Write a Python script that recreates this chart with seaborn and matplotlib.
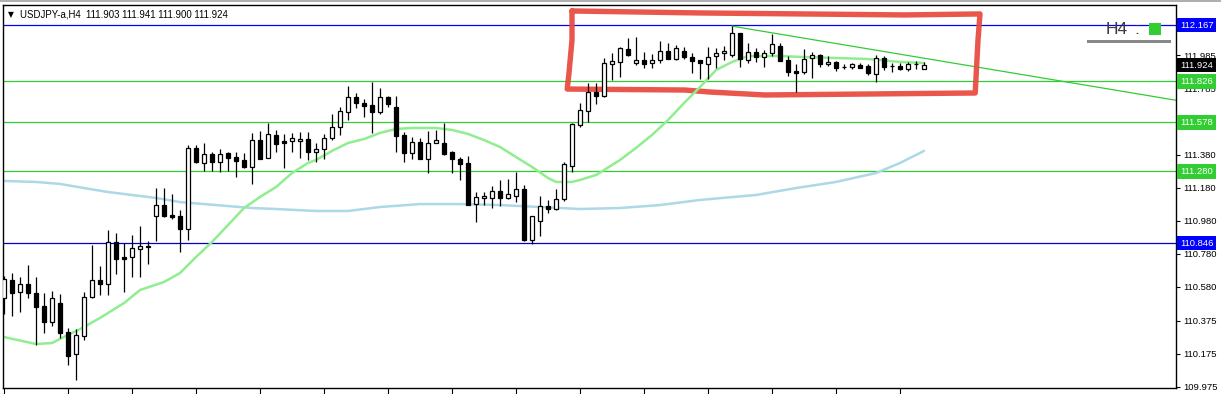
import matplotlib
matplotlib.use("Agg")
import matplotlib.pyplot as plt
import matplotlib.transforms as mtransforms
from matplotlib.patches import Rectangle
from matplotlib.lines import Line2D
import numpy as np
import pandas as pd
import seaborn as sns

# ---------------- data ----------------
symbol_title = "USDJPY-a,H4  111.903 111.941 111.900 111.924"

open_ = [110.513, 110.622, 110.549, 110.598, 110.543, 110.464, 110.367, 110.482, 110.307, 110.173,
         110.282, 110.519, 110.622, 110.598, 110.852, 110.761, 110.761, 110.810, 110.828, 111.010,
         111.076, 111.016, 111.010, 110.931, 111.422, 111.331, 111.386, 111.337, 111.392, 111.367,
         111.349, 111.307, 111.470, 111.361, 111.501, 111.464, 111.464, 111.464, 111.476, 111.398,
         111.416, 111.482, 111.549, 111.640, 111.731, 111.694, 111.682, 111.640, 111.731, 111.670,
         111.501, 111.392, 111.458, 111.355, 111.452, 111.452, 111.398, 111.355, 111.331, 111.082,
         111.119, 111.119, 111.161, 111.119, 111.131, 111.173, 110.864, 110.979, 111.070, 111.052,
         111.113, 111.313, 111.561, 111.646, 111.761, 111.737, 111.931, 111.943, 112.022, 111.937,
         111.955, 111.937, 111.955, 112.009, 111.961, 112.009, 111.973, 111.955, 111.931, 111.979,
         111.997, 111.985, 112.119, 111.955, 112.003, 111.973, 111.997, 112.040, 111.955, 111.888,
         111.882, 111.967, 111.985, 111.931, 111.943, 111.912, 111.912, 111.925, 111.919, 111.870,
         111.967, 111.919, 111.919, 111.900, 111.931, 111.903]
high = [110.646, 110.664, 110.640, 110.713, 110.640, 110.543, 110.555, 110.537, 110.331, 110.325,
        110.549, 110.834, 110.707, 110.925, 110.907, 110.846, 110.895, 110.949, 110.858, 111.179,
        111.179, 111.143, 111.046, 111.440, 111.440, 111.452, 111.398, 111.416, 111.398, 111.398,
        111.392, 111.513, 111.525, 111.573, 111.531, 111.507, 111.513, 111.519, 111.519, 111.452,
        111.507, 111.628, 111.670, 111.797, 111.755, 111.719, 111.822, 111.785, 111.737, 111.737,
        111.519, 111.488, 111.482, 111.525, 111.531, 111.573, 111.404, 111.367, 111.373, 111.155,
        111.155, 111.191, 111.228, 111.234, 111.276, 111.197, 111.010, 111.131, 111.107, 111.173,
        111.337, 111.573, 111.694, 111.816, 111.816, 111.967, 111.997, 112.034, 112.088, 112.094,
        112.003, 111.991, 112.070, 112.058, 112.046, 112.034, 111.997, 111.955, 112.034, 112.028,
        112.040, 112.160, 112.119, 112.058, 112.028, 112.016, 112.112, 112.058, 111.979, 111.931,
        112.022, 112.003, 111.991, 111.979, 111.949, 111.931, 111.937, 111.937, 111.931, 111.985,
        111.979, 111.937, 111.937, 111.943, 111.949, 111.941]
low = [110.416, 110.404, 110.428, 110.513, 110.228, 110.301, 110.343, 110.270, 110.107, 110.016,
       110.258, 110.513, 110.531, 110.531, 110.658, 110.549, 110.640, 110.640, 110.719, 110.858,
       111.004, 110.992, 110.791, 110.864, 111.331, 111.282, 111.282, 111.276, 111.282, 111.246,
       111.301, 111.204, 111.355, 111.361, 111.398, 111.301, 111.398, 111.361, 111.349, 111.337,
       111.355, 111.470, 111.501, 111.591, 111.664, 111.609, 111.513, 111.628, 111.670, 111.398,
       111.337, 111.355, 111.355, 111.270, 111.452, 111.379, 111.270, 111.228, 111.076, 110.973,
       111.076, 111.058, 111.070, 111.113, 111.094, 110.858, 110.840, 110.888, 111.028, 111.046,
       111.101, 111.276, 111.549, 111.579, 111.688, 111.731, 111.834, 111.852, 111.979, 111.925,
       111.906, 111.906, 111.937, 111.961, 111.955, 111.961, 111.876, 111.840, 111.840, 111.906,
       111.955, 111.973, 111.912, 111.937, 111.943, 111.912, 111.979, 111.949, 111.858, 111.761,
       111.870, 111.846, 111.912, 111.919, 111.888, 111.900, 111.900, 111.906, 111.864, 111.822,
       111.894, 111.882, 111.894, 111.888, 111.900, 111.900]
close = [110.628, 110.543, 110.598, 110.543, 110.458, 110.367, 110.513, 110.301, 110.161, 110.289,
         110.519, 110.622, 110.598, 110.852, 110.749, 110.749, 110.816, 110.828, 110.822, 111.076,
         111.010, 111.004, 110.931, 111.422, 111.337, 111.386, 111.337, 111.386, 111.361, 111.343,
         111.307, 111.470, 111.355, 111.507, 111.446, 111.452, 111.482, 111.476, 111.398, 111.416,
         111.482, 111.549, 111.646, 111.731, 111.694, 111.676, 111.640, 111.731, 111.688, 111.494,
         111.392, 111.458, 111.355, 111.452, 111.470, 111.386, 111.355, 111.325, 111.076, 111.125,
         111.131, 111.161, 111.119, 111.143, 111.173, 110.864, 111.010, 111.070, 111.052, 111.113,
         111.325, 111.567, 111.652, 111.761, 111.737, 111.937, 111.949, 112.028, 111.985, 111.955,
         111.931, 111.955, 112.009, 111.961, 112.028, 111.973, 111.949, 111.937, 111.973, 111.997,
         112.009, 112.119, 111.961, 112.003, 111.973, 111.997, 112.052, 111.949, 111.882, 111.876,
         111.961, 111.985, 111.931, 111.943, 111.906, 111.912, 111.931, 111.906, 111.876, 111.967,
         111.912, 111.916, 111.900, 111.931, 111.931, 111.924]

# fast moving average (light green), sampled along the bars
ma_fast_bar = [0, 4, 6, 8, 10, 12, 15, 17, 20, 22, 24, 26, 28, 30, 32, 34, 36, 38, 39, 41, 43, 45,
               47, 49, 51, 54, 56, 58, 60, 62, 64, 66, 68, 69, 71, 72, 74, 75, 77, 79, 81, 83, 85,
               87, 89, 91, 93, 97, 100, 104, 108, 112, 115]
ma_fast_val = [110.276, 110.234, 110.240, 110.289, 110.337, 110.392, 110.482, 110.561, 110.610,
               110.664, 110.761, 110.852, 110.955, 111.058, 111.125, 111.185, 111.270, 111.331,
               111.349, 111.404, 111.452, 111.476, 111.513, 111.537, 111.543, 111.543, 111.531,
               111.507, 111.470, 111.428, 111.367, 111.307, 111.240, 111.216, 111.216, 111.228,
               111.258, 111.288, 111.349, 111.422, 111.501, 111.591, 111.694, 111.791, 111.894,
               111.943, 111.979, 111.979, 111.973, 111.967, 111.961, 111.943, 111.937]
# slow moving average (light blue)
ma_slow_bar = [0, 4, 7, 10, 13, 16, 19, 22, 25, 28, 31, 34, 39, 43, 47, 52, 57, 62, 67, 72, 77,
               82, 87, 94, 99, 104, 109, 112, 115]
ma_slow_val = [111.222, 111.216, 111.204, 111.179, 111.155, 111.137, 111.119, 111.094, 111.082,
               111.070, 111.058, 111.052, 111.040, 111.040, 111.064, 111.082, 111.082, 111.076,
               111.064, 111.052, 111.058, 111.076, 111.107, 111.137, 111.179, 111.216, 111.270,
               111.331, 111.404]

# horizontal levels
level_values = [112.167, 111.826, 111.578, 111.280, 110.846]
level_labels = ["112.167", "111.826", "111.578", "111.280", "110.846"]
level_colors = ["#0000ff", "#32cd32", "#32cd32", "#32cd32", "#0000c8"]
level_box_colors = ["#0000ff", "#32cd32", "#32cd32", "#32cd32", "#0000ff"]

# descending trend line (bar index, price)
trend_bar = [91, 146.5]
trend_price = [112.160, 111.711]

# hand drawn red frame (bar index, price)
frame_bar = [71.0, 87.0, 112.6, 122.0, 121.75, 121.4, 108.25, 95.1, 88.25, 85.1, 70.4, 70.6, 71.0, 71.0]
frame_price = [112.252, 112.240, 112.228, 112.234, 112.076, 111.755, 111.749, 111.743, 111.761,
               111.773, 111.779, 111.864, 112.076, 112.252]

# right price scale
scale_ticks = [111.985, 111.785, 111.380, 111.180, 110.980, 110.780, 110.580, 110.375, 110.175, 109.975]
scale_labels = ["111.985", "111.785", "111.380", "111.180", "110.980", "110.780", "110.580",
                "110.375", "110.175", "109.975"]
last_price = 111.924
last_label = "111.924"

# ---------------- drawing ----------------
sns.set_theme(style="white")
plt.rcParams["font.family"] = ["Liberation Sans", "DejaVu Sans"]

W, H = 1221, 394
fig = plt.figure(figsize=(W / 100, H / 100), dpi=100)
fig.patch.set_facecolor("white")
ax_l, ax_r, ax_t, ax_b = 3, 1176, 5, 388
ax = fig.add_axes([ax_l / W, (H - ax_b) / H, (ax_r - ax_l) / W, (ax_b - ax_t) / H])
ax.set_facecolor("white")

df = pd.DataFrame({"open": open_, "high": high, "low": low, "close": close})
df["bar"] = np.arange(len(df))
df["bull"] = df["close"] >= df["open"]

# levels
for v, c in zip(level_values, level_colors):
    ax.axhline(v, color=c, lw=0.9, zorder=1)

# trend line
ax.plot(trend_bar, trend_price, color="#32cd32", lw=0.9, zorder=1)

# moving averages
sns.lineplot(x=ma_slow_bar, y=ma_slow_val, ax=ax, color="#add8e6", lw=1.8, zorder=2, legend=False)
sns.lineplot(x=ma_fast_bar, y=ma_fast_val, ax=ax, color="#90ee90", lw=1.8, zorder=2, legend=False)

# red frame
ax.plot(frame_bar, frame_price, color="#e8493d", lw=3.9, alpha=0.92, solid_joinstyle="round",
        solid_capstyle="round", zorder=1.5)

# candles
ax.vlines(df["bar"], df["low"], df["high"], color="black", lw=0.9, zorder=3)
ax.bar(df["bar"], df["close"] - df["open"], bottom=df["open"], width=0.62,
       color=np.where(df["bull"], "white", "black"), edgecolor="black", linewidth=0.9, zorder=4)

ax.set_xlim(-0.125, 146.5)
ax.set_ylim(109.9674, 112.2882)

# axes styling
for s in ax.spines.values():
    s.set_color("black")
    s.set_linewidth(1.0)
ax.yaxis.tick_right()
ax.set_yticks(scale_ticks)
ax.set_yticklabels(scale_labels)
ax.set_xticks(np.arange(0, 113, 8))
ax.set_xticklabels([])
ax.tick_params(axis="y", which="both", direction="out", length=3, width=0.8, colors="black",
               labelsize=6.8, pad=2, right=True, left=False)
ax.tick_params(axis="x", direction="out", length=4, width=0.8, colors="black", bottom=True)
ax.set_xlabel("")
ax.set_ylabel("")
ax.grid(False)

# price boxes on the scale
tr = mtransforms.blended_transform_factory(ax.transAxes, ax.transData)
box_x = (1180 - ax_l) / (ax_r - ax_l)
for v, lab, c in zip(level_values, level_labels, level_box_colors):
    ax.text(box_x, v, lab, transform=tr, ha="left", va="center", fontsize=6.8, color="white",
            clip_on=False, zorder=10,
            bbox=dict(boxstyle="square,pad=0.3", facecolor=c, edgecolor="none"))
ax.text(box_x, last_price, last_label, transform=tr, ha="left", va="center", fontsize=6.8,
        color="white", clip_on=False, zorder=10,
        bbox=dict(boxstyle="square,pad=0.3", facecolor="black", edgecolor="none"))

# title
fig.text(8 / W, 1 - 14.5 / H, "\u25BC", fontsize=5.5, color="black", va="center", ha="left",
         family=["DejaVu Sans"])
fig.text(20 / W, 1 - 14.5 / H, symbol_title, fontsize=6.9, color="black", va="center", ha="left")

# H4 badge
fig.text(1106 / W, 1 - 29 / H, "H4", fontsize=12.5, color="#3a3a3a", va="center", ha="left")
fig.text(1134 / W, 1 - 29 / H, ":", fontsize=12.5, color="#3a3a3a", va="center", ha="left")
fig.add_artist(Rectangle((1149 / W, 1 - 35 / H), 12 / W, 12 / H, transform=fig.transFigure,
                         facecolor="#32cd32", edgecolor="none"))
fig.add_artist(Rectangle((1087 / W, 1 - 43 / H), 84 / W, 3 / H, transform=fig.transFigure,
                         facecolor="#888888", edgecolor="none"))

# window chrome
fig.add_artist(Line2D([0, 1], [1 - 0.5 / H, 1 - 0.5 / H], transform=fig.transFigure,
                      color="#a0a0a0", lw=1.2))

fig.savefig("out.png", dpi=100, facecolor="white")
